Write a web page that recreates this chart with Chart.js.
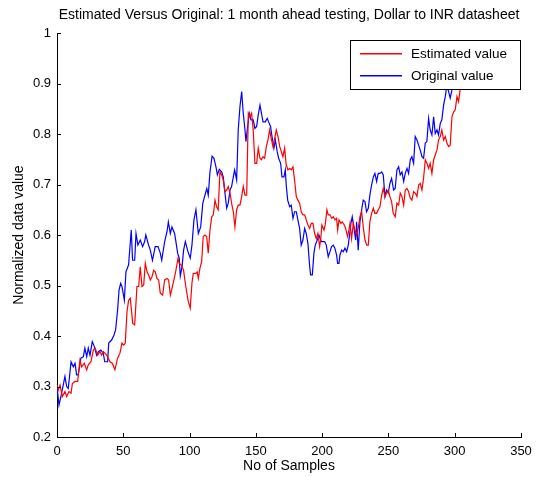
<!DOCTYPE html>
<html>
<head>
<meta charset="utf-8">
<script src="https://cdn.jsdelivr.net/npm/chart.js@4.4.1/dist/chart.umd.min.js"></script>
<style>
  html, body { margin: 0; padding: 0; background: #fff; }
  #wrap { width: 536px; height: 477px; }
</style>
</head>
<body>
<div id="wrap"><canvas id="plot" width="536" height="477"></canvas></div>
<script>
const chartTitle = 'Estimated Versus Original: 1 month ahead testing, Dollar to INR datasheet';
const xLabel = 'No of Samples';
const yLabel = 'Normalized data value';
const xTicks = [0, 50, 100, 150, 200, 250, 300, 350];
const yTicks = [0.2, 0.3, 0.4, 0.5, 0.6, 0.7, 0.8, 0.9, 1];
const seriesNames = ['Estimated value', 'Original value'];

// estimated (red)
const estSamples = [0, 1, 2.3, 4, 6, 7.3, 9, 10.6, 11.6, 13.6, 15.6, 17.3, 18.6, 20.6, 22.4, 23.6, 25.6, 27.4, 28.7, 30.7,
  32.4, 33.7, 34.9, 37.5, 40, 41.7, 43.7, 45.7, 47.5, 49, 50.3, 51.5, 52.8, 54, 55.3, 57.1, 58.6, 60.3, 61.6, 62.8,
  64.1, 65.4, 66.6, 67.9, 69.1, 70.4, 71.6, 72.9, 74.1, 75.4, 76.7, 77.9, 79.7, 81.2, 83, 84.2, 85.5, 86.7, 88.7, 89.7,
  91.3, 92.2, 93.7, 95.5, 96.8, 98.8, 100.5, 101.8, 102.8, 104.8, 105.8, 106.6, 107.8, 109.1, 110.3, 111.6, 112.9, 114.1, 115.4, 116.7,
  117.9, 119.2, 120.4, 121.6, 122.9, 124.2, 125.4, 126.7, 128, 129.2, 130.5, 131.7, 133, 134.2, 135.5, 136.7, 138, 139.3, 140.5, 141.8,
  143.1, 144.3, 145.6, 146.8, 148, 149.3, 150.6, 151.8, 153.1, 154.1, 155.4, 156.6, 157.9, 159.1, 160.4, 161.6, 162.9, 164.2, 165.4, 166.7,
  168, 169.2, 170.4, 171.7, 172.9, 174.2, 175.5, 176.7, 178, 179.2, 180.5, 181.7, 183, 184.2, 185.5, 186.8, 188, 189.3, 190.6, 191.8,
  193.1, 194.3, 195.6, 196.8, 198.1, 198.9, 199.8, 201.4, 202.3, 203.6, 204.6, 205.9, 207.2, 208.4, 209.7, 210.9, 211.7, 212.7, 214.2, 215.2,
  216.7, 217.7, 219.2, 220.2, 221, 222.2, 223.5, 224.7, 226, 227.2, 228.5, 229.8, 231, 232.3, 233.6, 234.8, 236, 237.3, 238.6, 239.8,
  241.1, 242.3, 243.6, 244.9, 246.1, 247.4, 248.6, 249.9, 251.1, 252.4, 253.6, 255.1, 256.4, 257.7, 258.9, 260.2, 261.5, 262.7, 264, 265.2,
  266.5, 267.7, 269, 270.2, 271.5, 272.8, 274, 275.3, 276.5, 277.8, 279, 280.3, 281.5, 282.8, 284.1, 285.3, 286.6, 287.8, 289.1, 290.3,
  291.6, 292.9, 294.1, 295.4, 296.6, 297.9, 299.2, 300.4, 301.7, 302.9, 304.2, 305.5, 307];
const estValues = [0.303, 0.293, 0.303, 0.28, 0.29, 0.28, 0.29, 0.287, 0.306, 0.31, 0.31, 0.352, 0.339, 0.346, 0.333, 0.343, 0.349, 0.372, 0.376, 0.362,
  0.369, 0.362, 0.369, 0.362, 0.349, 0.346, 0.333, 0.356, 0.366, 0.386, 0.382, 0.386, 0.448, 0.471, 0.475, 0.425, 0.422, 0.498, 0.498, 0.537,
  0.498, 0.501, 0.544, 0.527, 0.521, 0.511, 0.517, 0.53, 0.527, 0.514, 0.511, 0.485, 0.481, 0.511, 0.514, 0.511, 0.481, 0.494, 0.517, 0.53,
  0.554, 0.544, 0.541, 0.53, 0.504, 0.471, 0.455, 0.505, 0.524, 0.524, 0.527, 0.514, 0.534, 0.547, 0.597, 0.6, 0.597, 0.564, 0.61, 0.636,
  0.64, 0.669, 0.656, 0.65, 0.725, 0.719, 0.709, 0.686, 0.689, 0.696, 0.683, 0.663, 0.646, 0.616, 0.65, 0.659, 0.659, 0.676, 0.696, 0.679,
  0.679, 0.841, 0.834, 0.841, 0.808, 0.742, 0.742, 0.772, 0.752, 0.749, 0.755, 0.752, 0.775, 0.788, 0.808, 0.791, 0.775, 0.791, 0.808, 0.795,
  0.775, 0.765, 0.755, 0.772, 0.739, 0.729, 0.732, 0.729, 0.735, 0.709, 0.676, 0.669, 0.663, 0.646, 0.64, 0.64, 0.63, 0.62, 0.613, 0.623,
  0.623, 0.603, 0.593, 0.603, 0.577, 0.59, 0.62, 0.61, 0.62, 0.65, 0.64, 0.64, 0.633, 0.636, 0.63, 0.633, 0.61, 0.63, 0.623, 0.626,
  0.62, 0.613, 0.597, 0.61, 0.623, 0.593, 0.623, 0.61, 0.6, 0.613, 0.636, 0.646, 0.616, 0.59, 0.58, 0.58, 0.626, 0.643, 0.653, 0.643,
  0.643, 0.65, 0.656, 0.679, 0.692, 0.676, 0.683, 0.689, 0.676, 0.666, 0.643, 0.636, 0.663, 0.659, 0.683, 0.676, 0.659, 0.689, 0.692, 0.686,
  0.673, 0.669, 0.686, 0.683, 0.676, 0.699, 0.702, 0.689, 0.712, 0.749, 0.742, 0.732, 0.742, 0.722, 0.749, 0.758, 0.768, 0.788, 0.795, 0.808,
  0.788, 0.795, 0.782, 0.775, 0.778, 0.834, 0.844, 0.848, 0.874, 0.864, 0.89, 0.897, 0.91];

// original (blue)
const origSamples = [0, 1.5, 3.5, 6, 7.3, 8.5, 10.6, 12.3, 13.6, 14.8, 16, 18, 19.9, 21, 22.4, 23.6, 24.9, 26.6, 28.2, 29.9,
  31.2, 33, 34.9, 36, 38.2, 39, 41.2, 43, 44.2, 45.7, 46.8, 48, 49, 50.8, 52, 54, 56, 57, 58.6, 59.6,
  61, 62.8, 64.6, 66.1, 67, 69.1, 70.4, 72, 74.1, 76.2, 77.9, 79, 81.2, 83, 84, 85.5, 86.7, 88.7, 89.7, 91,
  92.2, 93, 94.3, 95.5, 96.8, 98.8, 100.5, 101.8, 103.3, 104.8, 106.6, 108.4, 110, 111.6, 113, 114.1, 115.4, 117, 118.4, 119.9,
  121, 122.4, 124.2, 125.4, 126.7, 128, 129.2, 130.5, 131.7, 133, 134, 135.5, 136.7, 138, 139.3, 140.5, 141.8, 142.5, 143.5, 145,
  146.3, 148, 149.3, 150.6, 151.8, 153.1, 155.4, 157.1, 158.6, 159.6, 161.1, 162, 163.6, 164.7, 166.1, 167.2, 168.7, 169.7, 171.2, 172.2,
  172.9, 174, 175.5, 176.7, 178, 179.2, 180.5, 181.7, 183, 184.2, 185.5, 186.8, 188, 189.3, 190.6, 191.3, 192.6, 193.8, 194.8, 196.3,
  197.6, 199.3, 201.9, 203.1, 204.6, 205.9, 207.1, 208.4, 209.6, 210.9, 211.7, 212.7, 213.4, 214.7, 215.9, 217.2, 218.5, 219.7, 221, 221.7,
  222.7, 224.2, 225.3, 226, 227.2, 228.5, 229.8, 231, 232.3, 233.5, 234.8, 236, 237.3, 238.6, 239.8, 241.1, 242.3, 243.6, 244.9, 246.1,
  247.4, 248.6, 249.9, 251.1, 252.4, 253.9, 255.1, 256.4, 257.7, 258.9, 260.2, 261.5, 262.7, 264, 265.2, 266.5, 267.7, 269, 270.2, 271.5,
  272.8, 274, 275.3, 276.5, 277.8, 279, 280.3, 281.5, 282.8, 284.1, 285.3, 286.6, 287.8, 289.1, 290.3, 291.6, 292.9, 294.1, 295.4, 296.6,
  297.9, 299.2, 302, 305];
const origValues = [0.3, 0.263, 0.287, 0.32, 0.3, 0.296, 0.349, 0.339, 0.346, 0.323, 0.323, 0.356, 0.359, 0.376, 0.359, 0.376, 0.362, 0.389, 0.379, 0.362,
  0.369, 0.372, 0.366, 0.349, 0.349, 0.386, 0.392, 0.402, 0.412, 0.451, 0.491, 0.504, 0.498, 0.471, 0.527, 0.541, 0.61, 0.55, 0.55, 0.603,
  0.58, 0.59, 0.577, 0.587, 0.6, 0.58, 0.57, 0.55, 0.577, 0.577, 0.564, 0.55, 0.587, 0.607, 0.626, 0.603, 0.616, 0.603, 0.587, 0.564,
  0.554, 0.519, 0.537, 0.57, 0.587, 0.567, 0.554, 0.58, 0.63, 0.65, 0.603, 0.616, 0.663, 0.679, 0.692, 0.679, 0.725, 0.756, 0.752, 0.735,
  0.719, 0.73, 0.725, 0.715, 0.683, 0.653, 0.663, 0.689, 0.696, 0.715, 0.729, 0.709, 0.808, 0.854, 0.884, 0.841, 0.808, 0.785, 0.808, 0.841,
  0.828, 0.828, 0.811, 0.815, 0.838, 0.857, 0.824, 0.824, 0.831, 0.824, 0.815, 0.798, 0.772, 0.788, 0.765, 0.752, 0.742, 0.715, 0.715, 0.729,
  0.699, 0.669, 0.656, 0.659, 0.633, 0.646, 0.646, 0.63, 0.613, 0.58, 0.59, 0.613, 0.603, 0.583, 0.537, 0.521, 0.521, 0.564, 0.58, 0.59,
  0.6, 0.587, 0.587, 0.58, 0.557, 0.567, 0.577, 0.58, 0.574, 0.56, 0.544, 0.544, 0.56, 0.57, 0.567, 0.574, 0.567, 0.58, 0.607, 0.623,
  0.636, 0.61, 0.59, 0.626, 0.57, 0.626, 0.65, 0.669, 0.666, 0.646, 0.653, 0.679, 0.699, 0.715, 0.722, 0.706, 0.722, 0.722, 0.725, 0.719,
  0.676, 0.689, 0.683, 0.702, 0.712, 0.689, 0.692, 0.729, 0.735, 0.719, 0.725, 0.706, 0.722, 0.732, 0.722, 0.749, 0.755, 0.742, 0.795, 0.788,
  0.778, 0.768, 0.755, 0.752, 0.782, 0.785, 0.831, 0.808, 0.798, 0.834, 0.801, 0.808, 0.798, 0.821, 0.828, 0.857, 0.874, 0.897, 0.884, 0.871,
  0.887, 0.907, 0.925, 0.935];

const FONT = 'Liberation Sans, Arial, Helvetica, sans-serif';
const RED = '#ff0000';
const BLUE = '#0000ff';

function toPoints(xs, ys) {
  return xs.map((x, i) => ({ x: x, y: ys[i] }));
}

// inward tick marks, title and boxed legend, MATLAB style
const matlabAxes = {
  id: 'matlabAxes',
  afterDraw(chart) {
    const ctx = chart.ctx;
    const area = chart.chartArea;
    const xs = chart.scales.x;
    const ys = chart.scales.y;
    ctx.save();
    ctx.lineWidth = 1;
    ctx.strokeStyle = '#000';
    ctx.beginPath();
    xTicks.forEach(v => {
      const px = Math.round(xs.getPixelForValue(v)) + 0.5;
      ctx.moveTo(px, area.bottom);
      ctx.lineTo(px, area.bottom - 4);
    });
    yTicks.forEach(v => {
      const py = Math.round(ys.getPixelForValue(v)) + 0.5;
      ctx.moveTo(area.left, py);
      ctx.lineTo(area.left + 4, py);
    });
    ctx.stroke();

    // title
    ctx.fillStyle = '#000';
    ctx.font = '14px ' + FONT;
    ctx.textAlign = 'center';
    ctx.textBaseline = 'middle';
    ctx.fillText(chartTitle, (area.left + area.right) / 2, 15);

    // legend
    const lw = 171, lh = 49;
    const lx = area.right - lw, ly = area.top + 7;
    ctx.fillStyle = '#fff';
    ctx.fillRect(lx, ly, lw, lh);
    ctx.strokeStyle = '#000';
    ctx.strokeRect(lx + 0.5, ly + 0.5, lw - 1, lh);
    const colors = [RED, BLUE];
    ctx.font = '13.5px ' + FONT;
    ctx.textAlign = 'left';
    seriesNames.forEach((name, i) => {
      const yy = ly + 13 + i * 22;
      ctx.fillStyle = colors[i];
      ctx.fillRect(lx + 10, yy, 42, 1.5);
      ctx.fillStyle = '#000';
      ctx.fillText(name, lx + 61, yy + 1);
    });
    ctx.restore();
  }
};

new Chart(document.getElementById('plot'), {
  type: 'line',
  data: {
    datasets: [
      {
        label: seriesNames[0],
        data: toPoints(estSamples, estValues),
        borderColor: RED,
        borderWidth: 1.2,
        pointRadius: 0,
        tension: 0,
        fill: false
      },
      {
        label: seriesNames[1],
        data: toPoints(origSamples, origValues),
        borderColor: BLUE,
        borderWidth: 1.2,
        pointRadius: 0,
        tension: 0,
        fill: false
      }
    ]
  },
  options: {
    responsive: false,
    animation: false,
    layout: { padding: { left: 0, top: 33, right: 15, bottom: 0 } },
    plugins: {
      legend: { display: false },
      title: { display: false },
      tooltip: { enabled: false }
    },
    scales: {
      x: {
        type: 'linear',
        min: 0,
        max: 350,
        afterBuildTicks: s => { s.ticks = xTicks.map(v => ({ value: v })); },
        afterFit: s => { s.height = 40; s.paddingLeft = 0; s.paddingRight = 0; },
        grid: { display: false, drawTicks: false },
        border: { display: true, color: '#000', width: 1 },
        ticks: { color: '#000', padding: 7, maxRotation: 0, font: { family: FONT, size: 13 } },
        title: { display: true, text: xLabel, color: '#000', padding: { top: 0, bottom: 2 }, font: { family: FONT, size: 14 } }
      },
      y: {
        min: 0.2,
        max: 1,
        afterBuildTicks: s => { s.ticks = yTicks.map(v => ({ value: v })); },
        afterFit: s => { s.width = 57; s.paddingTop = 0; s.paddingBottom = 0; },
        grid: { display: false, drawTicks: false },
        border: { display: true, color: '#000', width: 1 },
        ticks: {
          color: '#000',
          padding: 6,
          font: { family: FONT, size: 13 },
          callback: v => String(Math.round(v * 10) / 10)
        },
        title: { display: true, text: yLabel, color: '#000', padding: { top: 11, bottom: 0 }, font: { family: FONT, size: 14 } }
      }
    }
  },
  plugins: [matlabAxes]
});
</script>
</body>
</html>
